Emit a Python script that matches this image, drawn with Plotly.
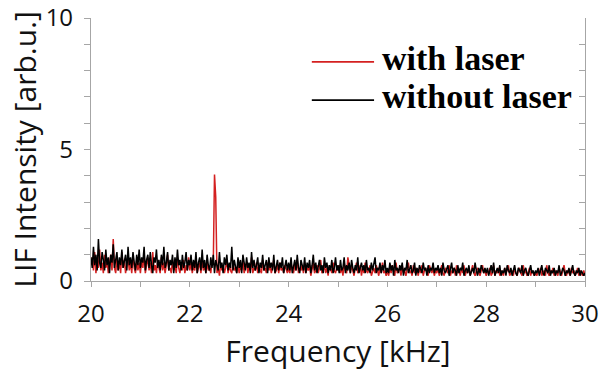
import numpy as np
import plotly.graph_objects as go

# LIF intensity [arb.u.], 40 samples per kHz from 20 to 30 kHz
with_laser = [
    # 20 kHz
    0.6, 0.9, 0.4, 1.1, 0.3, 0.8, 0.5, 1.2, 0.4, 0.7, 0.3, 1.0, 0.5, 0.8, 0.3, 0.6, 1.0, 0.4, 1.6, 0.5,
    0.3, 0.9, 0.4, 0.7, 0.3, 1.1, 0.5, 0.8, 0.3, 0.6, 0.9, 0.4, 0.7, 0.3, 1.0, 0.5, 0.3, 0.8, 0.4, 0.7,
    # 21 kHz
    0.3, 0.8, 0.5, 1.0, 0.3, 0.6, 0.9, 0.4, 0.7, 0.3, 1.1, 0.4, 0.6, 0.3, 0.8, 0.5, 0.3, 0.9, 0.4, 0.7,
    0.3, 0.6, 1.0, 0.4, 0.5, 0.3, 0.8, 0.4, 0.6, 0.3, 0.9, 0.5, 0.3, 0.7, 0.4, 0.8, 0.3, 0.6, 0.4, 0.9,
    # 22 kHz
    0.4, 0.7, 0.3, 0.6, 0.4, 0.9, 0.3, 0.5, 0.7, 0.3, 0.8, 0.4, 0.6, 0.3, 0.7, 0.4, 0.5, 0.3, 0.8, 0.6,
    4.05, 3.2, 0.3, 0.5, 0.2, 0.7, 0.4, 0.6, 0.3, 0.5, 0.8, 0.3, 0.6, 0.4, 0.3, 0.7, 0.4, 0.5, 0.3, 0.6,
    # 23 kHz
    0.3, 0.6, 0.4, 0.8, 0.3, 0.5, 0.7, 0.3, 0.6, 0.4, 0.9, 0.3, 0.5, 0.4, 0.7, 0.3, 0.6, 0.4, 0.3, 0.8,
    0.4, 0.5, 0.3, 0.7, 0.4, 0.6, 0.3, 0.5, 0.8, 0.3, 0.4, 0.6, 0.3, 0.7, 0.4, 0.5, 0.3, 0.6, 0.4, 0.3,
    # 24 kHz
    0.5, 0.3, 0.7, 0.4, 0.3, 0.6, 0.4, 0.8, 0.3, 0.5, 0.4, 0.6, 0.3, 0.7, 0.3, 0.5, 0.4, 0.6, 0.2, 0.5,
    0.7, 0.3, 0.4, 0.6, 0.3, 0.5, 0.8, 0.3, 0.4, 0.6, 0.3, 0.5, 0.2, 0.6, 0.4, 0.3, 0.7, 0.4, 0.3, 0.5,
    # 25 kHz
    0.4, 0.6, 0.3, 0.5, 0.2, 0.7, 0.4, 0.3, 0.9, 0.5, 0.3, 0.6, 0.4, 0.2, 0.5, 0.7, 0.3, 0.4, 0.6, 0.2,
    0.5, 0.3, 0.7, 0.4, 0.3, 0.5, 0.6, 0.2, 0.4, 0.5, 0.3, 0.6, 0.4, 0.2, 0.5, 0.3, 0.7, 0.3, 0.4, 0.2,
    # 26 kHz
    0.4, 0.2, 0.5, 0.3, 0.6, 0.4, 0.2, 0.7, 0.3, 0.4, 0.5, 0.2, 0.6, 0.3, 0.4, 0.2, 0.5, 0.7, 0.3, 0.4,
    0.2, 0.6, 0.3, 0.5, 0.4, 0.2, 0.5, 0.3, 0.6, 0.2, 0.4, 0.5, 0.3, 0.2, 0.6, 0.4, 0.3, 0.5, 0.2, 0.4,
    # 27 kHz
    0.3, 0.5, 0.2, 0.4, 0.6, 0.3, 0.2, 0.5, 0.4, 0.3, 0.6, 0.2, 0.4, 0.3, 0.5, 0.2, 0.6, 0.3, 0.4, 0.2,
    0.5, 0.3, 0.6, 0.2, 0.4, 0.3, 0.5, 0.2, 0.4, 0.6, 0.3, 0.2, 0.4, 0.5, 0.3, 0.2, 0.4, 0.6, 0.3, 0.4,
    # 28 kHz
    0.2, 0.4, 0.3, 0.5, 0.2, 0.3, 0.6, 0.2, 0.4, 0.3, 0.5, 0.2, 0.4, 0.3, 0.2, 0.5, 0.3, 0.4, 0.6, 0.2,
    0.3, 0.4, 0.2, 0.5, 0.3, 0.2, 0.4, 0.5, 0.3, 0.2, 0.6, 0.3, 0.4, 0.2, 0.3, 0.5, 0.2, 0.4, 0.3, 0.2,
    # 29 kHz
    0.3, 0.2, 0.4, 0.3, 0.5, 0.2, 0.3, 0.4, 0.2, 0.6, 0.3, 0.2, 0.4, 0.3, 0.5, 0.2, 0.4, 0.3, 0.2, 0.5,
    0.3, 0.2, 0.4, 0.6, 0.3, 0.2, 0.4, 0.3, 0.2, 0.5, 0.3, 0.4, 0.2, 0.3, 0.5, 0.2, 0.4, 0.3, 0.2, 0.4,
    # 30 kHz
    0.2,
]

without_laser = [
    # 20 kHz
    0.9, 0.5, 1.3, 0.6, 1.0, 0.4, 1.6, 0.7, 0.5, 1.1, 0.8, 0.4, 1.2, 0.6, 0.9, 0.3, 1.0, 0.7, 1.4, 0.5,
    0.8, 1.1, 0.4, 0.9, 0.6, 1.2, 0.5, 0.8, 1.0, 0.4, 1.3, 0.6, 0.9, 0.5, 1.1, 0.7, 0.4, 1.0, 0.6, 1.2,
    # 21 kHz
    0.5, 0.9, 0.7, 1.3, 0.4, 0.8, 1.0, 0.5, 1.1, 0.6, 0.3, 0.9, 0.7, 1.2, 0.5, 0.8, 0.4, 1.0, 0.6, 1.3,
    0.5, 0.7, 1.1, 0.4, 0.8, 0.6, 1.0, 0.3, 0.9, 0.5, 1.2, 0.6, 0.8, 0.4, 1.0, 0.5, 0.7, 1.1, 0.4, 0.8,
    # 22 kHz
    0.6, 1.0, 0.4, 0.8, 0.5, 1.1, 0.3, 0.7, 0.9, 0.4, 1.2, 0.5, 0.8, 0.3, 1.0, 0.6, 0.4, 0.9, 0.5, 1.0,
    0.3, 0.8, 0.6, 0.4, 1.1, 0.5, 0.7, 0.3, 0.9, 0.6, 1.0, 0.4, 0.7, 0.5, 1.3, 0.4, 0.8, 0.6, 0.3, 0.9,
    # 23 kHz
    0.5, 0.8, 0.3, 1.0, 0.6, 0.4, 0.9, 0.5, 0.7, 0.3, 1.1, 0.5, 0.8, 0.4, 0.6, 0.9, 0.3, 0.7, 0.5, 1.0,
    0.4, 0.6, 0.8, 0.3, 0.9, 0.5, 0.7, 0.4, 1.0, 0.3, 0.6, 0.8, 0.4, 0.7, 0.5, 0.9, 0.3, 0.6, 0.8, 0.4,
    # 24 kHz
    0.7, 0.4, 0.9, 0.3, 0.6, 0.8, 0.4, 1.0, 0.5, 0.3, 0.8, 0.6, 0.4, 0.9, 0.3, 0.7, 0.5, 0.8, 0.3, 0.6,
    1.0, 0.4, 0.7, 0.3, 0.5, 0.8, 0.4, 0.6, 0.3, 0.9, 0.5, 0.7, 0.3, 0.6, 0.4, 0.8, 0.3, 0.5, 0.9, 0.4,
    # 25 kHz
    0.6, 0.3, 0.8, 0.4, 0.5, 0.9, 0.3, 0.6, 0.4, 0.7, 0.3, 0.8, 0.5, 0.3, 0.6, 0.4, 0.9, 0.3, 0.5, 0.7,
    0.4, 0.6, 0.3, 0.8, 0.4, 0.5, 0.3, 0.7, 0.4, 0.6, 0.9, 0.3, 0.5, 0.4, 0.7, 0.3, 0.6, 0.4, 0.8, 0.3,
    # 26 kHz
    0.5, 0.3, 0.7, 0.4, 0.6, 0.2, 0.8, 0.4, 0.5, 0.3, 0.6, 0.4, 0.7, 0.2, 0.5, 0.4, 0.8, 0.3, 0.5, 0.6,
    0.3, 0.4, 0.7, 0.2, 0.5, 0.3, 0.6, 0.4, 0.3, 0.7, 0.4, 0.5, 0.2, 0.6, 0.3, 0.5, 0.4, 0.7, 0.3, 0.5,
    # 27 kHz
    0.4, 0.6, 0.3, 0.5, 0.2, 0.7, 0.4, 0.3, 0.5, 0.6, 0.2, 0.4, 0.7, 0.3, 0.5, 0.4, 0.2, 0.6, 0.3, 0.5,
    0.4, 0.7, 0.2, 0.4, 0.5, 0.3, 0.6, 0.2, 0.4, 0.5, 0.3, 0.7, 0.4, 0.2, 0.5, 0.3, 0.6, 0.4, 0.3, 0.5,
    # 28 kHz
    0.3, 0.5, 0.2, 0.4, 0.6, 0.3, 0.7, 0.2, 0.4, 0.5, 0.3, 0.6, 0.2, 0.4, 0.3, 0.5, 0.2, 0.6, 0.4, 0.3,
    0.5, 0.2, 0.4, 0.6, 0.3, 0.2, 0.5, 0.4, 0.3, 0.6, 0.2, 0.4, 0.5, 0.3, 0.2, 0.4, 0.6, 0.3, 0.4, 0.2,
    # 29 kHz
    0.4, 0.3, 0.5, 0.2, 0.4, 0.6, 0.3, 0.2, 0.5, 0.4, 0.3, 0.6, 0.2, 0.4, 0.3, 0.5, 0.2, 0.4, 0.3, 0.6,
    0.2, 0.3, 0.5, 0.4, 0.2, 0.4, 0.3, 0.5, 0.2, 0.4, 0.6, 0.3, 0.2, 0.4, 0.3, 0.5, 0.2, 0.4, 0.3, 0.2,
    # 30 kHz
    0.3,
]

freq_start, freq_end = 20.0, 30.0   # kHz, evenly sampled

series_names = ["with laser", "without laser"]
series_colors = ["#d42020", "#000000"]
x_tickvals = [20, 22, 24, 26, 28, 30]
y_tickvals = [0, 5, 10]

AXIS = "#a6a6a6"
TICKFONT = dict(family="Open Sans", size=24, color="#111111")
TITLEFONT = dict(family="Open Sans", size=30, color="#111111")
LEGENDFONT = dict(family="Liberation Serif", size=34, color="#000000", weight="bold")

fig = go.Figure()
for name, vals, col in zip(series_names, [with_laser, without_laser], series_colors):
    freq = np.linspace(freq_start, freq_end, len(vals))
    fig.add_trace(go.Scatter(x=freq, y=vals, mode="lines", name=name,
                             line=dict(color=col, width=1.5), showlegend=False))
# empty trace to realise the mirrored right-hand axis
fig.add_trace(go.Scatter(x=[], y=[], yaxis="y2", showlegend=False, hoverinfo="skip"))

# hand-drawn legend (line sample + bold serif label), in axis-domain units
legend_rows_y = [0.833, 0.688]
for name, col, ly in zip(series_names, series_colors, legend_rows_y):
    fig.add_shape(type="line", xref="x domain", yref="y domain",
                  x0=0.447, x1=0.573, y0=ly, y1=ly, line=dict(color=col, width=1.8))
    fig.add_annotation(text=name, xref="x domain", yref="y domain",
                       x=0.585, y=ly + 0.012, xanchor="left", yanchor="middle",
                       showarrow=False, font=LEGENDFONT)

fig.update_layout(
    width=600, height=372,
    margin=dict(l=91, r=15, t=18, b=91, autoexpand=False),
    paper_bgcolor="white", plot_bgcolor="white",
    showlegend=False,
    xaxis=dict(
        range=[20, 30], tickvals=x_tickvals, ticktext=[str(v) for v in x_tickvals],
        showgrid=False, zeroline=False, showline=True, linecolor=AXIS, linewidth=1.2,
        ticks="outside", ticklen=5, tickcolor=AXIS, automargin=False,
        ticklabelstandoff=6, ticklabeloverflow="allow",
        minor=dict(dtick=1, ticks="outside", ticklen=5, tickcolor=AXIS),
        tickfont=TICKFONT,
        title=dict(text="Frequency [kHz]", font=TITLEFONT, standoff=13),
    ),
    yaxis=dict(
        range=[0, 10], tickvals=y_tickvals,
        showgrid=False, zeroline=False, showline=True, linecolor=AXIS, linewidth=1.2,
        ticks="outside", ticklen=6, tickcolor=AXIS, automargin=False,
        ticklabelstandoff=6, ticklabeloverflow="allow",
        minor=dict(dtick=1, ticks="outside", ticklen=6, tickcolor=AXIS),
        tickfont=TICKFONT,
        title=dict(text="LIF Intensity [arb.u.]", font=TITLEFONT, standoff=0),
    ),
    yaxis2=dict(
        range=[0, 10], overlaying="y", side="right", anchor="x",
        showgrid=False, zeroline=False, showline=True, linecolor=AXIS, linewidth=1.2,
        showticklabels=False, tickvals=[0, 5, 10], automargin=False,
        ticks="inside", ticklen=6, tickcolor=AXIS,
        minor=dict(dtick=1, ticks="inside", ticklen=6, tickcolor=AXIS),
    ),
)

# remove the browser's default 8px page margin so the 600x372 figure fills the window
fig.write_html("out.html", config={"displayModeBar": False},
               post_script="document.body.style.margin='0';")
